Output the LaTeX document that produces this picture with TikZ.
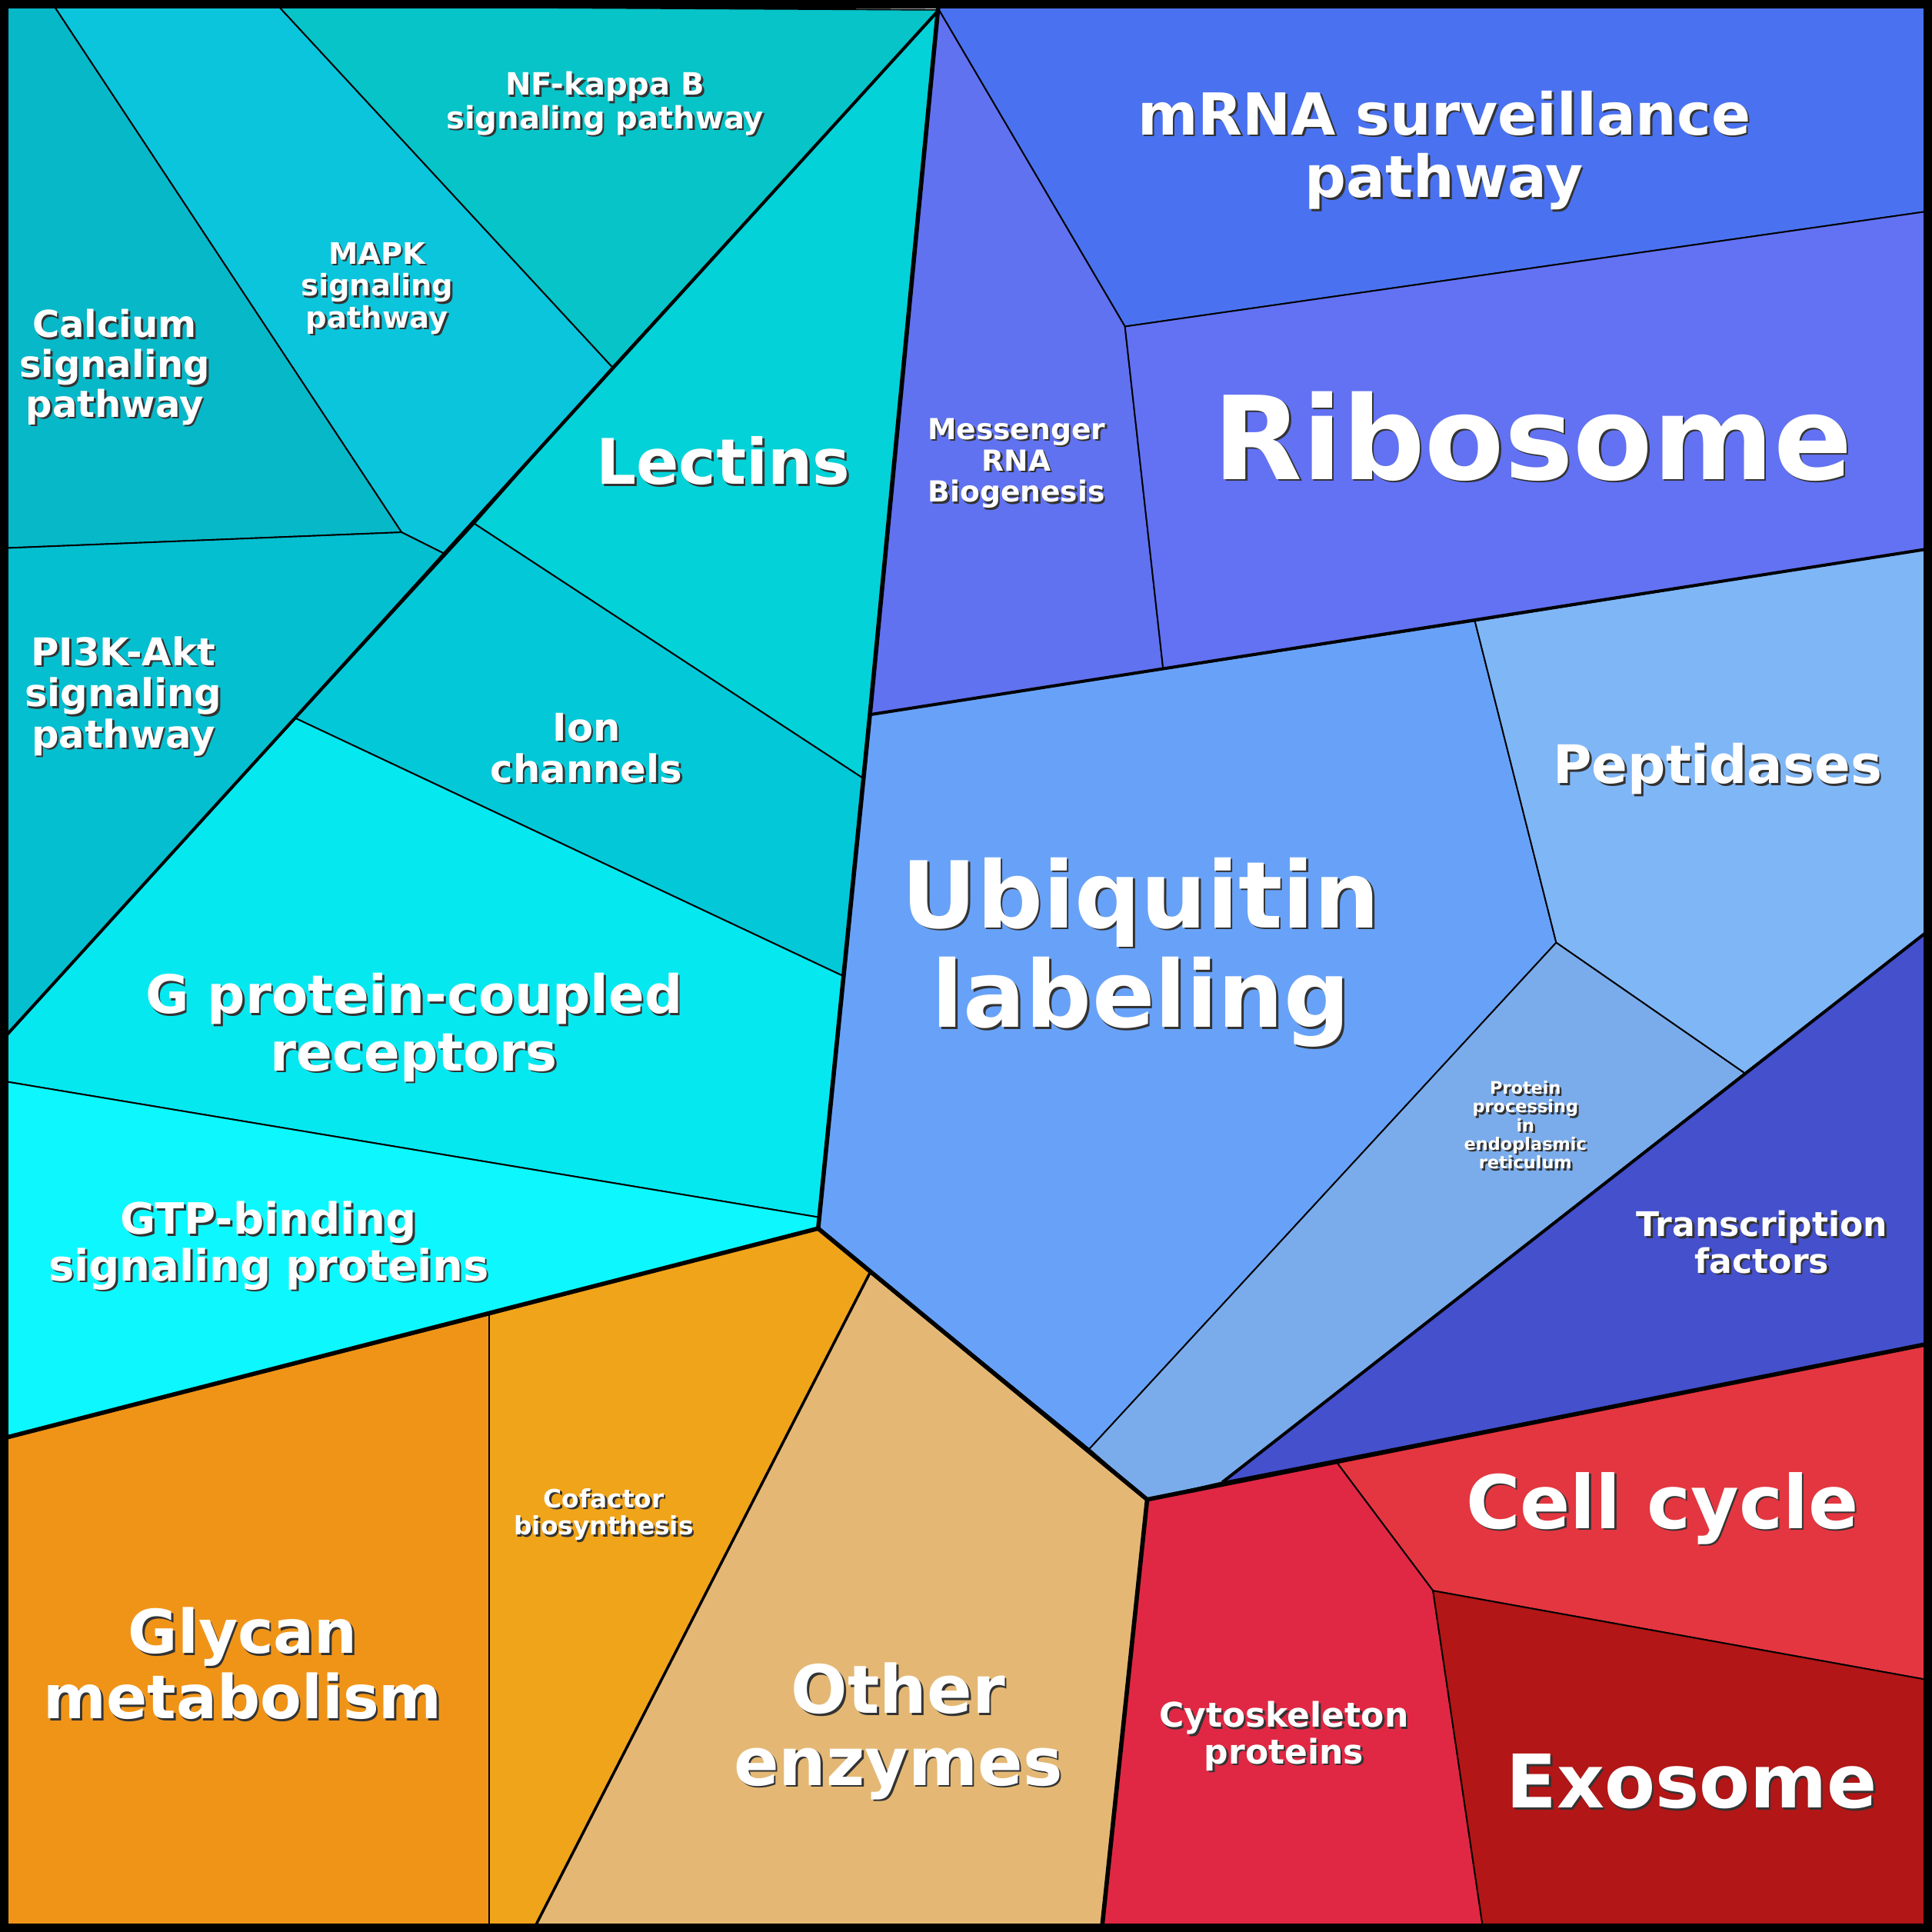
\documentclass[tikz,border=0pt]{standalone}
\usepackage{fontspec}
\setmainfont{DejaVu Sans}
\usetikzlibrary{positioning}

\tikzset{
  cell/.style={draw=black, line width=1.2pt, line join=round},
  group/.style={draw=black, line width=3.5pt, line join=round},
  shadowtxt/.style={text=black!80, align=center, xshift=1.6pt, yshift=-1.6pt},
  celltxt/.style={text=white, align=center}
}
% #1 name, #2 position, #3 size, #4 text
\newcommand{\celltag}[4]{%
  \node[shadowtxt, font=\bfseries\fontsize{#3}{\fpeval{1.08*#3}}\selectfont] at (#2) {#4};
  \node[celltxt, font=\bfseries\fontsize{#3}{\fpeval{1.08*#3}}\selectfont] (#1) at (#2) {#4};}

\begin{document}
\begin{tikzpicture}[x=1pt, y=-1pt]
  \useasboundingbox (0,0) rectangle (1568,1568);
  % teal group
  \filldraw[cell, fill={rgb,255:red,7;green,184;blue,200}] (0,0) -- (44,0) -- (44,5) -- (326,432) -- (0,445) -- cycle;
  \filldraw[cell, fill={rgb,255:red,11;green,197;blue,220}] (44,5) -- (226,5) -- (497,298) -- (360,449) -- (326,432) -- cycle;
  \filldraw[cell, fill={rgb,255:red,6;green,196;blue,200}] (226,5) -- (762,8) -- (497,298) -- cycle;
  \filldraw[cell, fill={rgb,255:red,3;green,210;blue,216}] (762,8) -- (706,580) -- (701,632) -- (385,425) -- (497,298) -- cycle;
  \filldraw[cell, fill={rgb,255:red,4;green,191;blue,208}] (0,445) -- (326,432) -- (360,449) -- (240,583) -- (0,846) -- cycle;
  \filldraw[cell, fill={rgb,255:red,3;green,200;blue,216}] (385,425) -- (701,632) -- (684,792) -- (240,583) -- cycle;
  \filldraw[cell, fill={rgb,255:red,6;green,232;blue,240}] (240,583) -- (684,792) -- (665,988) -- (0,877) -- (0,846) -- cycle;
  \filldraw[cell, fill={rgb,255:red,12;green,248;blue,254}] (0,877) -- (665,988) -- (664,997) -- (0,1168) -- cycle;
  % blue group
  \filldraw[cell, fill={rgb,255:red,74;green,114;blue,240}] (762,8) -- (762,0) -- (1568,0) -- (1568,171) -- (913,265) -- cycle;
  \filldraw[cell, fill={rgb,255:red,96;green,114;blue,240}] (762,8) -- (913,265) -- (944,543) -- (706,580) -- cycle;
  \filldraw[cell, fill={rgb,255:red,98;green,114;blue,242}] (913,265) -- (1568,171) -- (1568,445) -- (944,543) -- cycle;
  \filldraw[cell, fill={rgb,255:red,104;green,162;blue,248}] (706,580) -- (1197,504) -- (1263,765) -- (884,1176) -- (664,997) -- cycle;
  \filldraw[cell, fill={rgb,255:red,127;green,182;blue,246}] (1197,504) -- (1568,445) -- (1568,753) -- (1416,871) -- (1263,765) -- cycle;
  \filldraw[cell, fill={rgb,255:red,122;green,172;blue,235}] (1263,765) -- (1416,871) -- (992,1203) -- (931,1217) -- (884,1176) -- cycle;
  \filldraw[cell, fill={rgb,255:red,68;green,80;blue,204}] (1416,871) -- (1568,753) -- (1568,1090) -- (992,1203) -- cycle;
  % red group
  \filldraw[cell, fill={rgb,255:red,228;green,54;blue,64}] (1085,1187) -- (1568,1090) -- (1568,1364) -- (1163,1291) -- cycle;
  \filldraw[cell, fill={rgb,255:red,224;green,40;blue,68}] (931,1217) -- (1085,1187) -- (1163,1291) -- (1204,1568) -- (894,1568) -- cycle;
  \filldraw[cell, fill={rgb,255:red,178;green,22;blue,22}] (1163,1291) -- (1568,1364) -- (1568,1568) -- (1204,1568) -- cycle;
  % orange group
  \filldraw[cell, fill={rgb,255:red,240;green,148;blue,24}] (0,1168) -- (397,1067) -- (397,1568) -- (0,1568) -- cycle;
  \filldraw[cell, fill={rgb,255:red,240;green,164;blue,26}] (397,1067) -- (664,997) -- (706,1033) -- (432,1568) -- (397,1568) -- cycle;
  \filldraw[cell, fill={rgb,255:red,228;green,184;blue,116}] (706,1033) -- (931,1217) -- (894,1568) -- (432,1568) -- cycle;
  \draw[cell, line width=2.2pt] (706,1033) -- (432,1568);
  % group borders
  \draw[group] (762,0) -- (706,580) -- (664,997) -- (931,1217) -- (894,1568);
  \draw[group] (664,997) -- (0,1168);
  \draw[group] (931,1217) -- (1568,1090);
  \draw[group, line width=2.5pt] (762,8) -- (0,846);
  \draw[group, line width=2.5pt] (706,580) -- (1568,445);
  \draw[group, line width=2.5pt] (1568,753) -- (992,1203);
  \draw[black, line width=14pt] (0,0) rectangle (1568,1568);
  % labels
  \celltag{calcium}{93,298}{30}{Calcium\\signaling\\pathway}
  \celltag{mapk}{306,234}{24}{MAPK\\signaling\\pathway}
  \celltag{nfkb}{491,84}{25}{NF-kappa B\\signaling pathway}
  \celltag{lectins}{587,374}{51}{Lectins}
  \celltag{pik}{100,565}{31}{PI3K-Akt\\signaling\\pathway}
  \celltag{ion}{476,607}{31}{Ion\\channels}
  \celltag{gpcr}{336,834}{43}{G protein-coupled\\receptors}
  \celltag{gtp}{218,1011}{35}{GTP-binding\\signaling proteins}
  \celltag{surv}{1172,122}{47}{mRNA surveillance\\pathway}
  \celltag{mrna}{825,376}{23.5}{Messenger\\RNA\\Biogenesis}
  \celltag{ribo}{1244,354}{94}{Ribosome}
  \celltag{ubiq}{926,773}{75}{Ubiquitin\\labeling}
  \celltag{pept}{1394,624}{43}{Peptidases}
  \celltag{proc}{1238,913}{14}{Protein\\processing\\in\\endoplasmic\\reticulum}
  \celltag{trans}{1430,1008}{27.5}{Transcription\\factors}
  \celltag{cycle}{1349,1224}{60}{Cell cycle}
  \celltag{cyto}{1042,1409}{27.5}{Cytoskeleton\\proteins}
  \celltag{exo}{1373,1446}{60}{Exosome}
  \celltag{glycan}{197,1350}{49}{Glycan\\metabolism}
  \celltag{cofac}{490,1229}{20.5}{Cofactor\\biosynthesis}
  \celltag{other}{729,1405}{54}{Other\\enzymes}
\end{tikzpicture}
\end{document}
